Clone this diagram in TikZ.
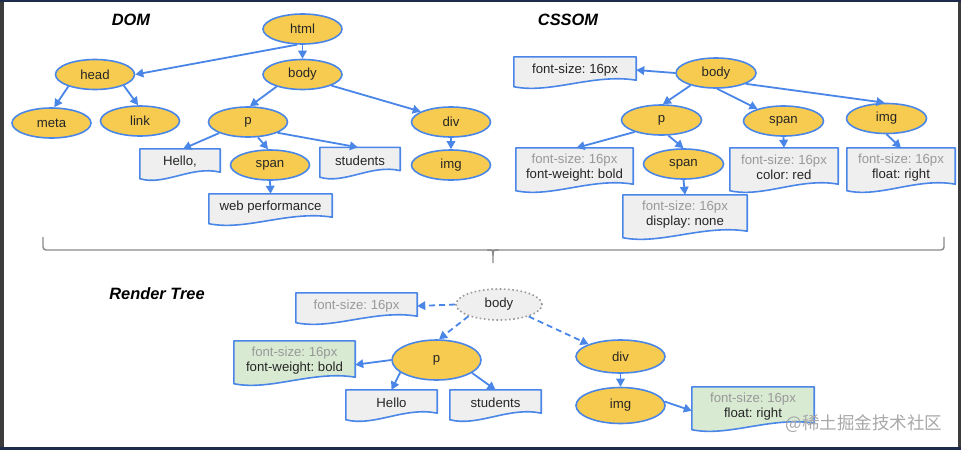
\documentclass[tikz,border=0pt]{standalone}
\usepackage{fontspec}
\setmainfont{Liberation Sans}
\newfontfamily\cjkfont{Noto Sans CJK SC}
\usetikzlibrary{shapes.geometric,arrows.meta,calc}
\frenchspacing
\definecolor{cblue}{HTML}{4A86E8}
\definecolor{cyel}{HTML}{F7CB4F}
\definecolor{cbox}{HTML}{EFEFEF}
\definecolor{cgreen}{HTML}{D9EAD3}
\definecolor{cgray}{HTML}{999999}
\definecolor{ctext}{HTML}{262626}
\definecolor{cdark}{HTML}{3C3C3C}
\definecolor{cnavy}{HTML}{1F2B4D}
\definecolor{cbrace}{HTML}{8A8A8A}
\definecolor{cdot}{HTML}{9A9A9A}
\definecolor{cwm}{HTML}{A8A8A8}
\pgfdeclarelayer{framelayer}
\pgfdeclarelayer{shapelayer}
\pgfsetlayers{framelayer,shapelayer,main}
\newcommand\lab{\fontsize{13.2}{15}\selectfont}
\newcommand\ttl{\fontsize{16.4}{18}\selectfont\bfseries\itshape}
\newcommand\gl[1]{{\color{cgray}#1}}
\newcommand\docbox[2]{%
  \begin{pgfonlayer}{shapelayer}
  \path[draw=cblue, line width=1.6pt, fill=#2, line join=round]
    (#1.north west) -- (#1.north east) -- ([yshift=3pt]#1.south east)
    .. controls ($(#1.south west)!0.65!(#1.south east)+(0pt,10pt)$)
       and ($(#1.south west)!0.3!(#1.south east)+(0pt,-11pt)$)
    .. ([yshift=-3.5pt]#1.south west) -- cycle;
  \end{pgfonlayer}}
\tikzset{
  el/.style={ellipse, draw=cblue, fill=cyel, line width=1.6pt,
    minimum width=79pt, minimum height=30pt, inner sep=0pt, font=\lab, text=ctext},
  bx/.style={rectangle, inner sep=0pt, minimum height=26pt, font=\lab,
    text=ctext, align=center},
  bxtwo/.style={bx, minimum height=39pt},
  arr/.style={draw=cblue, line width=1.8pt, -{Triangle[length=8pt,width=8.5pt]}},
  darr/.style={arr, dash pattern=on 6pt off 4pt},
  title/.style={font=\ttl, text=black, inner sep=0pt},
}
\begin{document}
\begin{tikzpicture}[x=1pt,y=-1pt]
\useasboundingbox (0,0) rectangle (961,450);
\begin{pgfonlayer}{framelayer}
  \fill[cdark] (0,0) rectangle (961,450);
  \fill[white] (4,2) rectangle (958,447);
  \fill[cnavy] (0,447) rectangle (961,450);
  \fill[cnavy] (0,0) rectangle (961,2);
\end{pgfonlayer}

% ---------- titles
\node[title] (tdom) at (131,20) {DOM};
\node[title] (tcssom) at (568,20) {CSSOM};
\node[title] (trender) at (157,294) {Render Tree};

% ---------- DOM
\node[el] (html) at (302.5,29) {html};
\node[el] (head) at (95,74.5) {head};
\node[el] (body) at (302.5,74.5) {body};
\node[el] (meta) at (51.5,123) {meta};
\node[el] (link) at (140,121) {link};
\node[el] (p) at (248,122) {p};
\node[el] (div) at (451,122) {div};
\node[el] (span) at (270,165) {span};
\node[el] (img) at (451,165) {img};
\node[bx, minimum width=80pt] (hello) at (180,162) {Hello,};
\node[bx, minimum width=80pt] (students) at (360,160.5) {students};
\node[bx, minimum width=123pt] (web) at (270.5,207) {web performance};
\docbox{hello}{cbox}
\docbox{students}{cbox}
\docbox{web}{cbox}

\draw[arr] (html.251) -- (head.east);
\draw[arr] (html.south) -- (body.north);
\draw[arr] (head.204) -- (meta.80);
\draw[arr] (head.339) -- (link.97);
\draw[arr] (body.205) -- (p.83);
\draw[arr] (body.339) -- (div.161);
\draw[arr] (p.201) -- (hello.77);
\draw[arr] (p.303) -- (span.97);
\draw[arr] (p.340) -- (students.99);
\draw[arr] (div.south) -- (img.north);
\draw[arr] (span.south) -- (web.north);

% ---------- CSSOM
\node[el, minimum width=80pt] (cbody) at (716,73) {body};
\node[el, minimum width=80pt] (cp) at (661.5,120) {p};
\node[el, minimum width=80pt] (cspan) at (783.5,121) {span};
\node[el, minimum width=80pt] (cimg) at (886.5,118.5) {img};
\node[el, minimum width=80pt] (cspantwo) at (683.5,164) {span};
\node[bx, minimum width=122pt] (cfs) at (575,70) {font-size: 16px};
\node[bxtwo, minimum width=117pt] (cpb) at (574.5,167.5) {\gl{font-size: 16px}\\font-weight: bold};
\node[bxtwo, minimum width=124pt] (cdb) at (685,214.5) {\gl{font-size: 16px}\\display: none};
\node[bxtwo, minimum width=108pt] (crb) at (784,167.5) {\gl{font-size: 16px}\\color: red};
\node[bxtwo, minimum width=108pt] (cfb) at (901,167.5) {\gl{font-size: 16px}\\float: right};
\docbox{cfs}{cbox}
\docbox{cpb}{cbox}
\docbox{cdb}{cbox}
\docbox{crb}{cbox}
\docbox{cfb}{cbox}

\draw[arr] (cbody.west) -- (cfs.east);
\draw[arr] (cbody.206) -- (cp.85);
\draw[arr] (cbody.274) -- (cspan.155);
\draw[arr] (cbody.340) -- (cimg.97);
\draw[arr] (cp.204) -- (cpb.84);
\draw[arr] (cp.294) -- (cspantwo.north);
\draw[arr] (cspan.south) -- (crb.north);
\draw[arr] (cimg.south) -- (cfb.north);
\draw[arr] (cspantwo.south) -- (cdb.north);

% ---------- brace
\draw[cbrace, line width=1.4pt, rounded corners=3pt]
  (43,237) -- (43,250) -- (944,250) -- (944,237);
\draw[cbrace, line width=1.4pt]
  (487,250) .. controls (493,250) .. (493,256) -- (493,263);
\draw[cbrace, line width=1.4pt]
  (499,250) .. controls (493,250) .. (493,256);

% ---------- Render tree
\node[ellipse, draw=cdot, fill=cbox, line width=1.6pt, dash pattern=on 1.6pt off 2.6pt,
  minimum width=86pt, minimum height=31pt, inner sep=0pt, font=\lab, text=ctext]
  (rbody) at (499,304.5) {body};
\node[el, minimum width=89pt, minimum height=40pt] (rp) at (436.5,360) {p};
\node[el, minimum width=89pt, minimum height=33pt] (rdiv) at (620.5,356.5) {div};
\node[el, minimum width=89pt, minimum height=36pt] (rimg) at (620.5,405.5) {img};
\node[bx, minimum width=121pt] (rfs) at (356.5,306) {\gl{font-size: 16px}};
\node[bxtwo, minimum width=121pt] (rpb) at (294.5,360.5) {\gl{font-size: 16px}\\font-weight: bold};
\node[bx, minimum width=91pt] (rhello) at (391.5,403) {Hello};
\node[bx, minimum width=91pt] (rstud) at (495.5,403) {students};
\node[bxtwo, minimum width=122pt] (rfl) at (753,406.5) {\gl{font-size: 16px}\\float: right};
\docbox{rfs}{cbox}
\docbox{rpb}{cgreen}
\docbox{rhello}{cbox}
\docbox{rstud}{cbox}
\docbox{rfl}{cgreen}

\draw[darr] (rbody.west) -- (rfs.east);
\draw[darr] (rbody.201) -- (rp.83);
\draw[darr] (rbody.338) -- (rdiv.159);
\draw[arr] (rp.west) -- (rpb.356);
\draw[arr] (rp.199) -- (rhello.north);
\draw[arr] (rp.340) -- (rstud.north);
\draw[arr] (rdiv.south) -- (rimg.north);
\draw[arr] (rimg.5) -- (rfl.184);

% ---------- watermark
\node[font=\cjkfont\fontsize{17.5}{19}\selectfont, text=cwm, inner sep=0pt]
  (wm) at (864,423.5) {@稀土掘金技术社区};
\end{tikzpicture}
\end{document}
